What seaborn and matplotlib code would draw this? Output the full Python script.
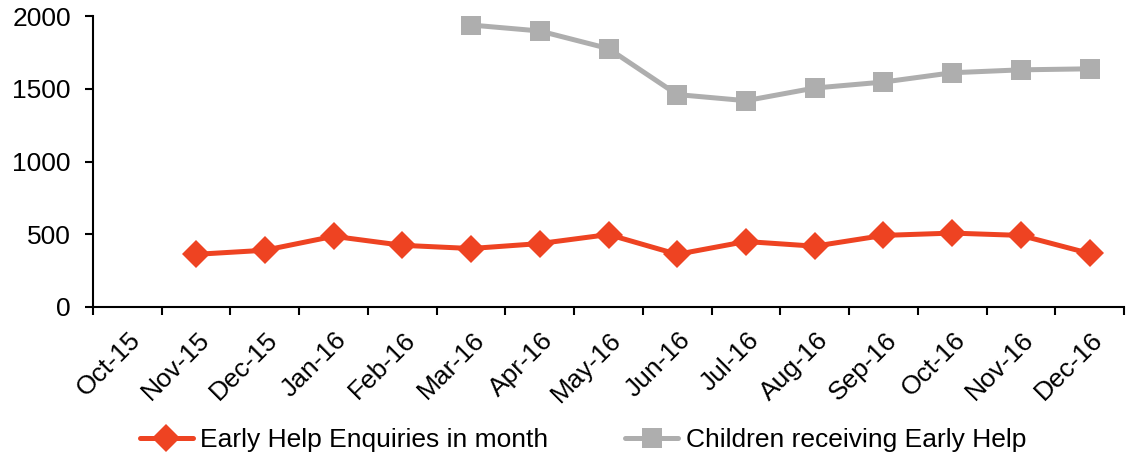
import matplotlib

matplotlib.use("Agg")

import matplotlib.pyplot as plt
import matplotlib.transforms as mtransforms
import numpy as np
import pandas as pd
import seaborn as sns

MONTHS = [
    "Oct-15", "Nov-15", "Dec-15", "Jan-16", "Feb-16", "Mar-16", "Apr-16", "May-16",
    "Jun-16", "Jul-16", "Aug-16", "Sep-16", "Oct-16", "Nov-16", "Dec-16",
]
ENQUIRIES = [np.nan, 362, 390, 486, 424, 402, 436, 498, 362, 450, 418, 492, 508, 492, 368]
RECEIVING = [np.nan, np.nan, np.nan, np.nan, np.nan, 1938, 1897, 1776, 1460, 1418,
             1505, 1546, 1610, 1630, 1637]

SERIES_ENQ = "Early Help Enquiries in month"
SERIES_REC = "Children receiving Early Help"

ORANGE = "#EE4322"
GREY = "#AEAEAE"

sns.set_theme(style="white")
plt.rcParams["font.family"] = ["Liberation Sans", "DejaVu Sans"]
plt.rcParams["text.color"] = "black"
plt.rcParams["xtick.color"] = "black"
plt.rcParams["ytick.color"] = "black"

x = np.arange(len(MONTHS))
df = pd.concat(
    [
        pd.DataFrame({"x": x, "value": ENQUIRIES, "series": SERIES_ENQ}),
        pd.DataFrame({"x": x, "value": RECEIVING, "series": SERIES_REC}),
    ],
    ignore_index=True,
).dropna()

fig = plt.figure(figsize=(11.34, 4.58), dpi=100)
ax = fig.add_axes([93 / 1134, 1 - 307 / 458, (1124 - 93) / 1134, (307 - 16) / 458])

sns.lineplot(
    data=df,
    x="x",
    y="value",
    hue="series",
    style="series",
    palette={SERIES_ENQ: ORANGE, SERIES_REC: GREY},
    markers={SERIES_ENQ: "D", SERIES_REC: "s"},
    dashes=False,
    linewidth=3.6,
    markersize=14,
    markeredgewidth=0,
    ax=ax,
)
for line in ax.lines:
    if line.get_marker() == "s":
        line.set_markersize(15)

ax.set_xlim(-0.5, len(MONTHS) - 0.5)
ax.set_ylim(0, 2000)
ax.set_yticks([0, 500, 1000, 1500, 2000])
ax.set_xticks(np.arange(-0.5, len(MONTHS), 1.0))
ax.set_xticklabels([])
ax.set_xticks(x, minor=True)
ax.set_xticklabels(MONTHS, minor=True, rotation=45, ha="right", rotation_mode="anchor")
ax.tick_params(axis="x", which="minor", length=0, pad=15, labelsize=19)
ax.tick_params(axis="x", which="major", length=6, width=1.5, direction="out", bottom=True)
ax.tick_params(axis="y", length=6, width=1.5, direction="out", left=True, labelsize=19, pad=10)
shift = mtransforms.ScaledTranslation(1 / 100, 0, fig.dpi_scale_trans)
for lbl in ax.get_xticklabels(minor=True):
    lbl.set_transform(lbl.get_transform() + shift)
ax.set_xlabel("")
ax.set_ylabel("")

for side in ["top", "right"]:
    ax.spines[side].set_visible(False)
for side in ["left", "bottom"]:
    ax.spines[side].set_color("black")
    ax.spines[side].set_linewidth(1.5)

handles, labels = ax.get_legend_handles_labels()
ax.legend_.remove()
fig.legend(
    handles,
    labels,
    loc="center",
    bbox_to_anchor=(0.5 + 16 / 1134, 1 - 440 / 458),
    ncol=2,
    frameon=False,
    fontsize=19,
    handlelength=2.0,
    handletextpad=0.3,
    columnspacing=2.9,
)

fig.savefig("out.png", dpi=100)
